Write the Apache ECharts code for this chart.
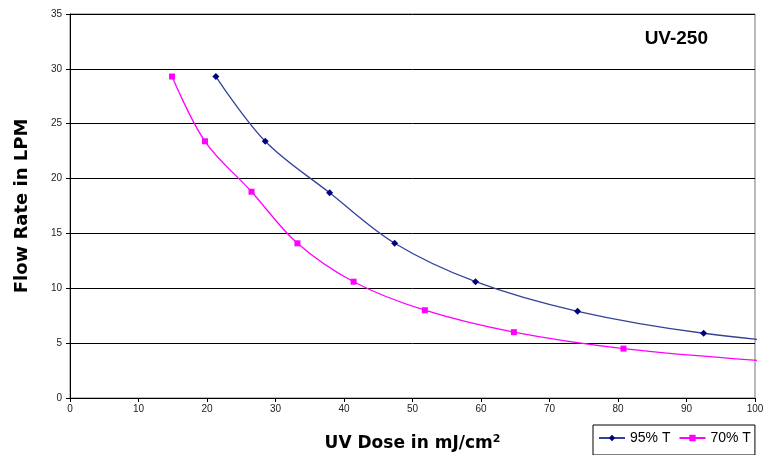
<!DOCTYPE html>
<html>
<head>
<meta charset="utf-8">
<script src="https://cdn.jsdelivr.net/npm/echarts@6/dist/echarts.min.js"></script>
<style>
  html, body { margin: 0; padding: 0; background: #fff; }
  #main { width: 763px; height: 455px; }
</style>
</head>
<body>
<div id="main"></div>
<script>
// 95% T readings (last point lies past the axis end, line gets clipped)
var dose95 = [21.3, 28.5, 37.9, 47.4, 59.2, 74.1, 92.5, 115.6];
var flow95 = [29.3, 23.4, 18.7, 14.1, 10.6, 7.9, 5.9, 4.5];
// 70% T readings
var dose70 = [14.9, 19.7, 26.5, 33.2, 41.4, 51.8, 64.8, 80.8, 101.0];
var flow70 = [29.3, 23.4, 18.8, 14.1, 10.6, 8.0, 6.0, 4.5, 3.4];

function pairs(xs, ys) {
  return xs.map(function (x, i) { return [x, ys[i]]; });
}

var chart = echarts.init(document.getElementById('main'));

var option = {
  animation: false,
  title: {
    text: 'UV-250',
    right: 50,
    top: 24,
    textStyle: { fontFamily: 'Liberation Sans', fontWeight: 'bold', fontSize: 19, color: '#000' }
  },
  legend: {
    left: 593,
    top: 425,
    itemWidth: 26,
    itemHeight: 8,
    itemGap: 8,
    padding: [6, 4, 10, 5],
    borderColor: '#000',
    borderWidth: 1,
    textStyle: { fontFamily: 'Liberation Sans', fontSize: 14, color: '#000' },
    data: ['95% T', '70% T']
  },
  grid: {
    left: 70, right: 8, top: 14, bottom: 57,
    outerBoundsMode: 'none',
    show: true, borderColor: '#777', borderWidth: 1
  },
  xAxis: {
    type: 'value',
    min: 0, max: 100, interval: 10,
    name: '{a|UV Dose in mJ/cm}{s|2}',
    nameLocation: 'middle',
    nameGap: 36,
    nameTextStyle: {
      rich: {
        a: { fontFamily: 'DejaVu Sans', fontWeight: 'bold', fontSize: 17, color: '#000' },
        s: { fontFamily: 'DejaVu Sans', fontWeight: 'bold', fontSize: 11, color: '#000', verticalAlign: 'top', padding: [0, 0, 8, 0] }
      }
    },
    axisLine: { lineStyle: { color: '#000' } },
    axisTick: { show: true, length: 4, lineStyle: { color: '#000' } },
    axisLabel: { fontFamily: 'Liberation Sans', fontSize: 10, color: '#222', margin: 6 },
    splitLine: { show: false }
  },
  yAxis: {
    type: 'value',
    min: 0, max: 35, interval: 5,
    name: 'Flow Rate in LPM',
    nameLocation: 'middle',
    nameGap: 39,
    nameTextStyle: { fontFamily: 'DejaVu Sans', fontWeight: 'bold', fontSize: 18, color: '#000' },
    axisLine: { show: true, lineStyle: { color: '#000' } },
    axisTick: { show: true, length: 4, lineStyle: { color: '#000' } },
    axisLabel: { fontFamily: 'Liberation Sans', fontSize: 10, color: '#222', margin: 8 },
    splitLine: { show: true, lineStyle: { color: '#000', width: 1 } }
  },
  series: [
    {
      name: '95% T',
      type: 'line',
      smooth: 0.35,
      clip: true,
      symbol: 'diamond',
      symbolSize: 7,
      color: '#000080',
      lineStyle: { color: '#34439a', width: 1.3 },
      itemStyle: { color: '#000080' },
      data: pairs(dose95, flow95)
    },
    {
      name: '70% T',
      type: 'line',
      smooth: 0.35,
      clip: true,
      symbol: 'rect',
      symbolSize: 6,
      color: '#ff00ff',
      lineStyle: { color: '#ff00ff', width: 1.3 },
      itemStyle: { color: '#ff00ff' },
      data: pairs(dose70, flow70)
    }
  ]
};

chart.setOption(option);
</script>
</body>
</html>
